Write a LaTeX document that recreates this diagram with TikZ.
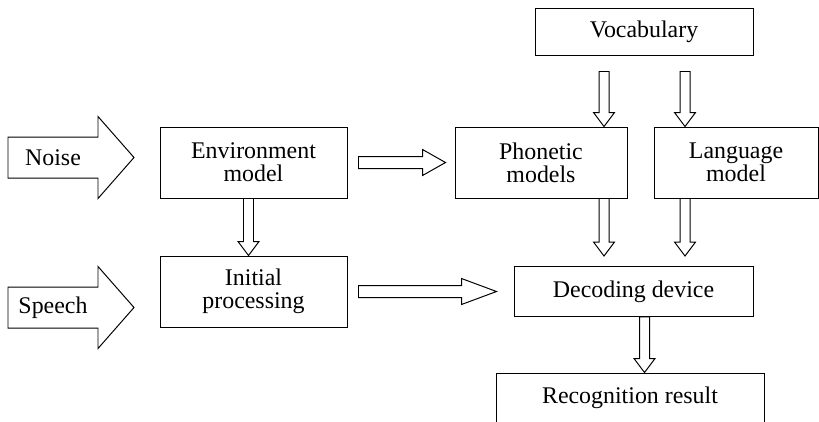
\documentclass[tikz,border=0pt]{standalone}
\usepackage{fontspec}
\setmainfont{Liberation Serif}
\usepackage{tikz}
\usetikzlibrary{calc}

\begin{document}
\begin{tikzpicture}[every node/.style={font=\fontsize{17}{16.5}\selectfont},
	line width=0.7pt, line join=miter,
	box/.style={draw, align=center, inner sep=0pt},
	hollow/.style n args={3}{to path={
		-- ($(\tikztostart)!#1!90:(\tikztotarget)$)
		-- ($($(\tikztotarget)!#3!(\tikztostart)$)!#1!90:(\tikztotarget)$)
		-- ($($(\tikztotarget)!#3!(\tikztostart)$)!#2!90:(\tikztotarget)$)
		-- (\tikztotarget)
		-- ($($(\tikztotarget)!#3!(\tikztostart)$)!#2!-90:(\tikztotarget)$)
		-- ($($(\tikztotarget)!#3!(\tikztostart)$)!#1!-90:(\tikztotarget)$)
		-- ($(\tikztostart)!#1!-90:(\tikztotarget)$)
		-- cycle}},
	bigarrow/.style={hollow={0.5125cm}{1.025cm}{0.9cm}},
	harrow/.style={hollow={0.15cm}{0.325cm}{#1}},
	varrow/.style={hollow={0.125cm}{0.2625cm}{0.35cm}}]
	\useasboundingbox (0,0) rectangle (20.475,-10.525);
	\node[box, minimum width=5.45cm, minimum height=1.175cm] (voc) at (16.1,-0.7875) {Vocabulary};
	\node[box, minimum width=4.3cm, minimum height=1.775cm] (phon) at (13.525,-4.0625) {Phonetic\\models};
	\node[box, minimum width=4.1cm, minimum height=1.775cm] (lang) at (18.4,-4.0625) {Language\\model};
	\node[box, minimum width=4.675cm, minimum height=1.775cm] (env) at (6.3375,-4.0625) {Environment\\model};
	\node[box, minimum width=4.675cm, minimum height=1.775cm] (init) at (6.3375,-7.2875) {Initial\\processing};
	\node[box, minimum width=5.975cm, minimum height=1.25cm] (dec) at (15.8375,-7.2875) {Decoding device};
	\node[box, minimum width=6.7cm, minimum height=1.25cm] (rec) at (15.75,-9.95) {Recognition result};
	\node (noise) at (1.325,-3.9375) {Noise};
	\node (speech) at (1.325,-7.6875) {Speech};
	\draw[bigarrow] ([xshift=-1.125cm]noise.center) to ([xshift=2.025cm]noise.center);
	\draw[bigarrow] ([xshift=-1.125cm]speech.center) to ([xshift=2.025cm]speech.center);
	\draw[harrow=0.575cm] ([xshift=0.275cm]env.east) to ([xshift=-0.225cm]phon.west);
	\draw[harrow=0.875cm] ([xshift=0.275cm]init.east) to ([xshift=-0.425cm]dec.west);
	\draw[varrow] ([xshift=-0.125cm]env.south) to ([xshift=-0.125cm]init.north);
	\draw[varrow] ([xshift=-1cm,yshift=-0.4cm]voc.south) to ([xshift=1.575cm]phon.north);
	\draw[varrow] ([xshift=1.025cm,yshift=-0.4cm]voc.south) to ([xshift=-1.275cm]lang.north);
	\draw[varrow] ([xshift=1.575cm]phon.south) to ([xshift=1.575cm,yshift=0.25cm]phon.south |- dec.north);
	\draw[varrow] ([xshift=-1.275cm]lang.south) to ([xshift=-1.275cm,yshift=0.25cm]lang.south |- dec.north);
	\draw[varrow] ([xshift=0.275cm]dec.south) to ([xshift=0.275cm]dec.south |- rec.north);
\end{tikzpicture}
\end{document}
